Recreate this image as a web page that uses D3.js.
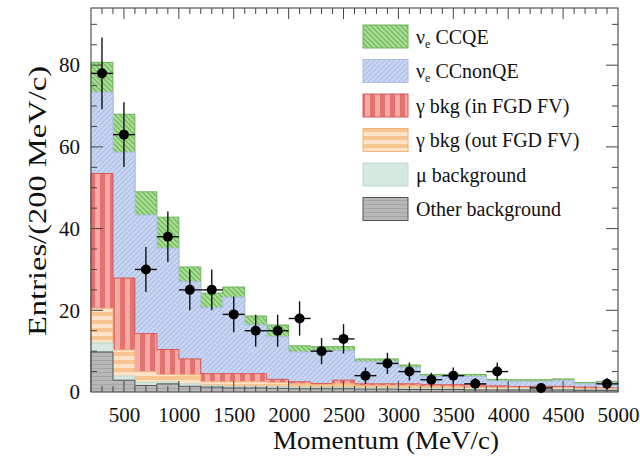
<!DOCTYPE html>
<html><head><meta charset="utf-8">
<script src="https://cdn.jsdelivr.net/npm/d3@7/dist/d3.min.js"></script>
</head><body style="margin:0">
<svg id="chart" width="640" height="460"></svg>
<script>
// ---- data ----
const binLow  = [200,400,600,800,1000,1200,1400,1600,1800,2000,2200,2400,2600,2800,3000,3200,3400,3600,3800,4000,4200,4400,4600,4800];
const binHigh = [400,600,800,1000,1200,1400,1600,1800,2000,2200,2400,2600,2800,3000,3200,3400,3600,3800,4000,4200,4400,4600,4800,5000];
const binCenter = [300,500,700,900,1100,1300,1500,1700,1900,2100,2300,2500,2700,2900,3100,3300,3500,3700,3900,4100,4300,4500,4700,4900];

// stacked MC components (bottom to top)
const otherBkg  = [9.8,2.9,1.6,2.0,1.4,1.2,1.0,1.0,0.9,0.8,0.8,0.8,0.7,0.7,0.6,0.6,0.6,0.5,0.5,0.5,0.5,0.5,0.4,0.4];
const muBkg     = [2.2,1.0,0.8,0.5,0.6,0.4,0.4,0.4,0.4,0.4,0.3,0.3,0.3,0.3,0.3,0.3,0.2,0.2,0.2,0.2,0.2,0.2,0.2,0.2];
const gammaOut  = [8.5,6.4,2.6,1.8,2.2,0.9,1.1,1.1,1.0,0.8,0.7,0.9,0.6,0.6,0.7,0.5,0.6,0.5,0.4,0.4,0.4,0.4,0.3,0.3];
const gammaIn   = [33.0,17.6,9.3,6.1,3.9,2.0,2.0,2.0,0.8,0.5,0.3,0.9,0.4,0.4,0.4,0.4,0.4,0.6,0.4,0.2,0.3,0.3,0.3,0.1];
const ccNonQE   = [19.9,30.8,29.0,24.8,18.9,16.1,18.7,11.9,10.4,7.3,8.0,7.2,5.4,5.4,4.0,2.0,2.0,2.0,1.2,1.3,1.2,1.4,0.8,1.2];
const ccQE      = [7.3,9.3,5.7,7.6,3.6,3.6,2.5,2.2,2.9,1.5,1.0,1.0,0.7,0.7,0.6,0.5,0.5,0.5,0.4,0.4,0.4,0.4,0.3,0.4];

// data points
const dataCounts = [78,63,30,38,25,25,19,15,15,18,10,13,4,7,5,3,4,2,5,0,1,0,0,2];
const dataErr    = [8.8,7.9,5.5,6.2,5.0,5.0,4.4,3.9,3.9,4.2,3.2,3.6,2.0,2.6,2.2,1.7,2.0,1.4,2.2,0,1.0,0,0,1.4];

// axes
const xTicks = [500,1000,1500,2000,2500,3000,3500,4000,4500,5000];
const yTicks = [0,20,40,60,80];
const xLabel = "Momentum (MeV/c)";
const yLabel = "Entries/(200 MeV/c)";

const legendItems = [
  {key: "qe",    label: ["ν", "e", " CCQE"]},
  {key: "nonqe", label: ["ν", "e", " CCnonQE"]},
  {key: "gin",   label: ["γ bkg (in FGD FV)"]},
  {key: "gout",  label: ["γ bkg (out FGD FV)"]},
  {key: "mu",    label: ["μ background"]},
  {key: "other", label: ["Other background"]}
];

// ---- layout ----
const W = 640, H = 460;
const m = {left: 91, right: 22, top: 8, bottom: 68};
const svg = d3.select("#chart");
const x = d3.scaleLinear().domain([200, 5000]).range([m.left, W - m.right]);
const y = d3.scaleLinear().domain([0, 94]).range([H - m.bottom, m.top]);

function serif(sel, size) {
  return sel.attr("font-family", "Liberation Serif").style("font-family", '"Liberation Serif"')
    .attr("font-size", size).attr("fill", "#111");
}

// ---- patterns ----
const defs = svg.append("defs");
function diagPattern(id, bg, fg, dir) {
  const p = defs.append("pattern").attr("id", id).attr("patternUnits", "userSpaceOnUse")
    .attr("width", 5).attr("height", 5);
  p.append("rect").attr("width", 5).attr("height", 5).attr("fill", bg);
  if (dir > 0) {
    p.append("path").attr("d", "M-1,1 l2,-2 M0,5 l5,-5 M4,6 l2,-2").attr("stroke", fg).attr("stroke-width", 1.1);
  } else {
    p.append("path").attr("d", "M-1,4 l2,2 M0,0 l5,5 M4,-1 l2,2").attr("stroke", fg).attr("stroke-width", 1.1);
  }
}
diagPattern("pQE", "#a9dc95", "#68b552", -1);
diagPattern("pNonQE", "#cbd7f1", "#a9bde7", 1);
{
  const p = defs.append("pattern").attr("id", "pGin").attr("patternUnits", "userSpaceOnUse")
    .attr("width", 10).attr("height", 10);
  p.append("rect").attr("width", 10).attr("height", 10).attr("fill", "#f3aba6");
  p.append("rect").attr("width", 5).attr("height", 10).attr("fill", "#e2716f");
}
{
  const p = defs.append("pattern").attr("id", "pGout").attr("patternUnits", "userSpaceOnUse")
    .attr("width", 8).attr("height", 8);
  p.append("rect").attr("width", 8).attr("height", 8).attr("fill", "#fde3c8");
  p.append("rect").attr("width", 8).attr("height", 4).attr("fill", "#f8c490");
}
{
  const p = defs.append("pattern").attr("id", "pOther").attr("patternUnits", "userSpaceOnUse")
    .attr("width", 4).attr("height", 4);
  p.append("rect").attr("width", 4).attr("height", 4).attr("fill", "#b8b8b8");
  p.append("rect").attr("width", 4).attr("height", 1).attr("fill", "#a4a4a4");
}

const styles = {
  qe:    {fill: "url(#pQE)",    stroke: "#6cb35a"},
  nonqe: {fill: "url(#pNonQE)", stroke: "#aebfe6"},
  gin:   {fill: "url(#pGin)",   stroke: "#d9595a"},
  gout:  {fill: "url(#pGout)",  stroke: "#f2b27a"},
  mu:    {fill: "#d6e9e1",      stroke: "#bcd8cc"},
  other: {fill: "url(#pOther)", stroke: "#555"}
};

// cumulative stacks (ROOT-like: draw cumulative tops, biggest first)
const comps = [
  {key: "other", v: otherBkg},
  {key: "mu", v: muBkg},
  {key: "gout", v: gammaOut},
  {key: "gin", v: gammaIn},
  {key: "nonqe", v: ccNonQE},
  {key: "qe", v: ccQE}
];
let cum = binLow.map(() => 0);
comps.forEach(c => {
  cum = cum.map((s, i) => s + c.v[i]);
  c.top = cum.slice();
});

function stepPoints(tops) {
  const pts = [];
  tops.forEach((t, i) => { pts.push({x: binLow[i], y: t}); pts.push({x: binHigh[i], y: t}); });
  return pts;
}
const area = d3.area().x(d => x(d.x)).y0(y(0)).y1(d => y(d.y));
const line = d3.line().x(d => x(d.x)).y(d => y(d.y));

const gHist = svg.append("g");
comps.slice().reverse().forEach(c => {
  const pts = stepPoints(c.top);
  gHist.append("path").attr("d", area(pts)).attr("fill", styles[c.key].fill);
  const outline = [{x: binLow[0], y: 0}].concat(pts).concat([{x: binHigh[binHigh.length - 1], y: 0}]);
  gHist.append("path").attr("d", line(outline)).attr("fill", "none")
    .attr("stroke", styles[c.key].stroke).attr("stroke-width", 1);
});

// ---- frame & ticks ----
const x0 = m.left, x1 = W - m.right, y0 = H - m.bottom, y1 = m.top;
const gAx = svg.append("g").attr("stroke", "#444").attr("stroke-width", 1);
const xMinor = d3.range(300, 5000, 100);
xMinor.forEach(v => {
  const major = v % 500 === 0;
  const len = major ? 11 : 6;
  gAx.append("line").attr("x1", x(v)).attr("x2", x(v)).attr("y1", y0).attr("y2", y0 - len);
  gAx.append("line").attr("x1", x(v)).attr("x2", x(v)).attr("y1", y1).attr("y2", y1 + len);
});
const yMinor = d3.range(5, 94, 5);
yMinor.forEach(v => {
  const major = v % 20 === 0;
  const len = major ? 12 : 6;
  gAx.append("line").attr("x1", x0).attr("x2", x0 + len).attr("y1", y(v)).attr("y2", y(v));
  gAx.append("line").attr("x1", x1).attr("x2", x1 - len).attr("y1", y(v)).attr("y2", y(v));
});
svg.append("rect").attr("x", x0).attr("y", y1).attr("width", x1 - x0).attr("height", y0 - y1)
  .attr("fill", "none").attr("stroke", "#555").attr("stroke-width", 1.2);

// tick labels via d3 axes (domain & ticks hidden)
const xAxis = d3.axisBottom(x).tickValues(xTicks).tickSize(0).tickPadding(15).tickFormat(d3.format("d"));
const gx = svg.append("g").attr("transform", `translate(0,${y0})`).call(xAxis);
gx.attr("font-family", "Liberation Serif").attr("font-size", 21);
gx.select(".domain").remove();
serif(gx.selectAll("text"), 21);
const yAxis = d3.axisLeft(y).tickValues(yTicks).tickSize(0).tickPadding(11).tickFormat(d3.format("d"));
const gy = svg.append("g").attr("transform", `translate(${x0},0)`).call(yAxis);
gy.attr("font-family", "Liberation Serif").attr("font-size", 21);
gy.select(".domain").remove();
serif(gy.selectAll("text"), 21);

serif(svg.append("text"), 26).attr("x", 386).attr("y", 449).attr("text-anchor", "middle")
  .attr("textLength", 226).attr("lengthAdjust", "spacingAndGlyphs").text(xLabel);
serif(svg.append("text"), 26).attr("transform", `translate(46,${(y0 + y1) / 2 + 1}) rotate(-90)`)
  .attr("text-anchor", "middle")
  .attr("textLength", 270).attr("lengthAdjust", "spacingAndGlyphs").text(yLabel);

// ---- data points ----
const gData = svg.append("g");
binCenter.forEach((c, i) => {
  const n = dataCounts[i];
  if (n <= 0) return;
  const e = dataErr[i];
  gData.append("line").attr("x1", x(binLow[i])).attr("x2", x(binHigh[i]))
    .attr("y1", y(n)).attr("y2", y(n)).attr("stroke", "#111").attr("stroke-width", 1.4);
  gData.append("line").attr("x1", x(c)).attr("x2", x(c))
    .attr("y1", y(n - e)).attr("y2", y(n + e)).attr("stroke", "#111").attr("stroke-width", 1.4);
  gData.append("circle").attr("cx", x(c)).attr("cy", y(n)).attr("r", 5).attr("fill", "#000");
});

// ---- legend ----
const lg = svg.append("g");
legendItems.forEach((it, i) => {
  const top = 25 + i * 34.5;
  lg.append("rect").attr("x", 363).attr("y", top).attr("width", 45).attr("height", 23)
    .attr("fill", styles[it.key].fill).attr("stroke", styles[it.key].stroke).attr("stroke-width", 1);
  const t = serif(lg.append("text"), 20).attr("x", 416).attr("y", top + 18.5);
  if (it.label.length === 3) {
    t.append("tspan").text(it.label[0]);
    t.append("tspan").attr("font-size", 12).attr("dy", 4).text(it.label[1]);
    t.append("tspan").attr("dy", -4).text(it.label[2]);
  } else {
    t.text(it.label[0]);
  }
});
</script>
</body></html>
